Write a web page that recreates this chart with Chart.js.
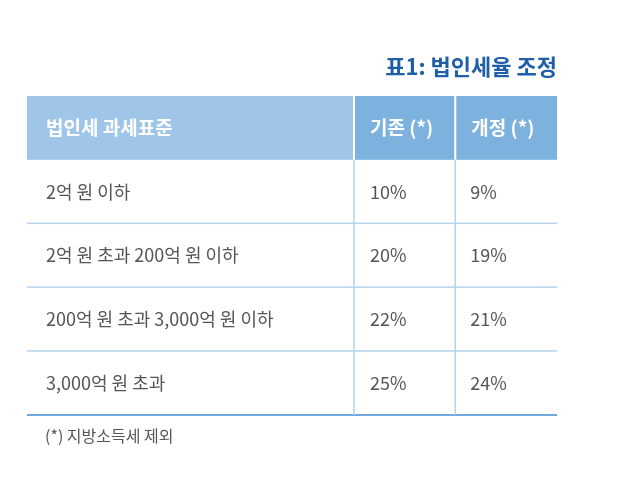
<!DOCTYPE html>
<html><head><meta charset="utf-8">
<script src="https://cdn.jsdelivr.net/npm/chart.js@4/dist/chart.umd.min.js"></script>
<style>html,body{margin:0;background:#fff}#w{width:628px;height:486px}</style>
</head><body><div id="w"><canvas id="c"></canvas></div>
<script>
const title = "표1: 법인세율 조정";
const headers = ["법인세 과세표준", "기존 (*)", "개정 (*)"];
const categories = ["2억 원 이하", "2억 원 초과 200억 원 이하", "200억 원 초과 3,000억 원 이하", "3,000억 원 초과"];
const existingRates = ["10%", "20%", "22%", "25%"];
const revisedRates = ["9%", "19%", "21%", "24%"];
const footnote = "(*) 지방소득세 제외";

const colFrac = [0, 0.617, 0.808, 1];
const F = '"Noto Sans CJK KR", "Noto Sans", sans-serif';

const tablePlugin = {
  id: 'table',
  afterDraw(chart) {
    const ctx = chart.ctx, y = chart.scales.y, a = chart.chartArea;
    const W = a.right - a.left;
    const cx = colFrac.map(f => a.left + f * W);
    const n = y.getLabels().length;
    const h = (a.bottom - a.top) / n;
    const band = i => [y.getPixelForValue(i) - h / 2, y.getPixelForValue(i) + h / 2];
    ctx.save();
    ctx.fillStyle = '#1f5fa8'; ctx.font = 'bold 22px ' + F;
    ctx.textAlign = 'right'; ctx.textBaseline = 'middle';
    ctx.fillText(title, a.right, 67);
    const [ht, hb] = band(0);
    ctx.fillStyle = '#9fc5e8'; ctx.fillRect(cx[0], ht, cx[1] - cx[0], hb - ht);
    ctx.fillStyle = '#7db2de'; ctx.fillRect(cx[1], ht, cx[3] - cx[1], hb - ht);
    ctx.fillStyle = '#fff'; ctx.fillRect(cx[1] - 1, ht, 2, hb - ht); ctx.fillRect(cx[2] - 1, ht, 2, hb - ht);
    ctx.font = 'bold 19px ' + F; ctx.textAlign = 'left'; ctx.fillStyle = '#fff';
    headers.forEach((t, j) => ctx.fillText(t, cx[j] + (j ? 16 : 19), (ht + hb) / 2));
    ctx.font = '18px ' + F;
    categories.forEach((c, i) => {
      const [t, b] = band(i + 1), m = (t + b) / 2;
      ctx.fillStyle = '#555';
      ctx.fillText(c, cx[0] + 19, m);
      ctx.fillText(existingRates[i], cx[1] + 16, m);
      ctx.fillText(revisedRates[i], cx[2] + 15, m);
      ctx.fillStyle = i === categories.length - 1 ? '#6fa8dc' : '#b4d2ec';
      ctx.fillRect(cx[0], b - 1, W, i === categories.length - 1 ? 2 : 1.5);
    });
    ctx.fillStyle = '#b4d2ec';
    ctx.fillRect(cx[1] - 0.75, hb, 1.5, a.bottom - hb);
    ctx.fillRect(cx[2] - 0.75, hb, 1.5, a.bottom - hb);
    ctx.fillStyle = '#555'; ctx.font = '16px ' + F;
    ctx.fillText(footnote, cx[0] + 18, a.bottom + 21);
    ctx.restore();
  }
};

new Chart(document.getElementById('c'), {
  type: 'bar',
  data: { labels: [headers[0], ...categories], datasets: [{ data: [0, 0, 0, 0, 0] }] },
  options: {
    indexAxis: 'y', responsive: true, maintainAspectRatio: false, animation: false,
    layout: { padding: { top: 96, left: 27, right: 71, bottom: 71 } },
    plugins: { legend: { display: false }, tooltip: { enabled: false } },
    scales: { x: { display: false, min: 0, max: 1 }, y: { display: false } }
  },
  plugins: [tablePlugin]
});
</script></body></html>
